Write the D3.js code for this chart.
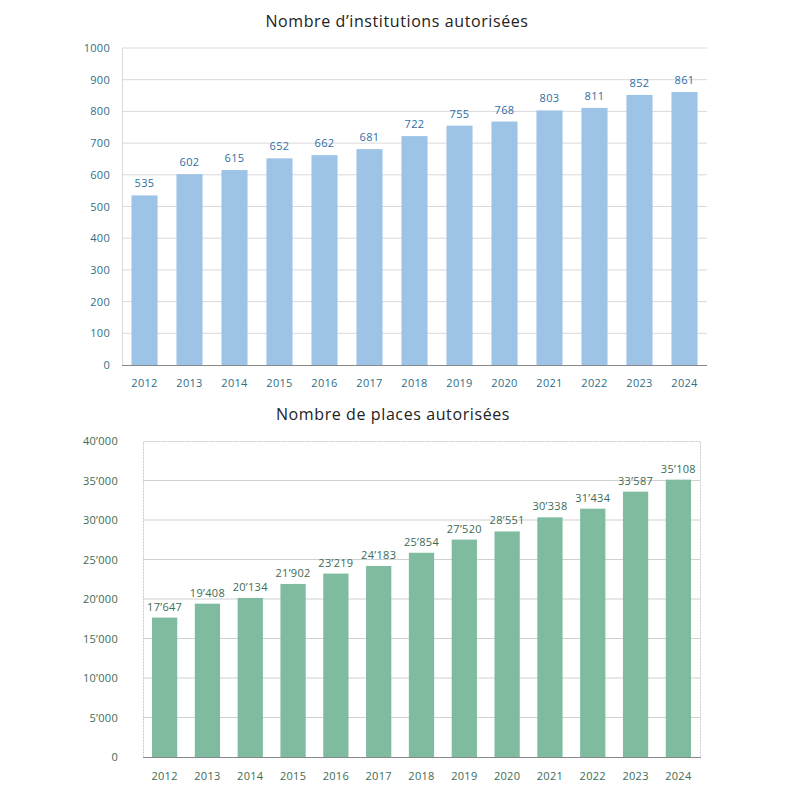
<!DOCTYPE html>
<html>
<head>
<meta charset="utf-8">
<script src="https://cdn.jsdelivr.net/npm/d3@7"></script>
<style>
  body { margin: 0; background: #fff; }
  text { font-family: "Open Sans", sans-serif; }
</style>
</head>
<body>
<svg width="794" height="794"></svg>
<script>
var years = ["2012", "2013", "2014", "2015", "2016", "2017", "2018", "2019", "2020", "2021", "2022", "2023", "2024"];
var institutions = [535, 602, 615, 652, 662, 681, 722, 755, 768, 803, 811, 852, 861];
var places = [17647, 19408, 20134, 21902, 23219, 24183, 25854, 27520, 28551, 30338, 31434, 33587, 35108];
var instTicks = [0, 100, 200, 300, 400, 500, 600, 700, 800, 900, 1000];
var placeTicks = [0, 5000, 10000, 15000, 20000, 25000, 30000, 35000, 40000];

var svg = d3.select("svg");

function fmt(v) {
  // thousands separator is an apostrophe
  return d3.format(",")(v).replace(/,/g, "\u2019");
}

// ---- top chart ----
var x1 = d3.scaleBand().domain(years).range([122, 707]).paddingInner(0.42).paddingOuter(0.21);
var y1 = d3.scaleLinear().domain([0, 1000]).range([365, 48]);

svg.append("text")
  .attr("x", 397).attr("y", 27)
  .attr("text-anchor", "middle")
  .style("font-size", "16px").style("fill", "#222").style("letter-spacing", "0.6px")
  .text("Nombre d\u2019institutions autorisées");

svg.append("g").selectAll("line")
  .data(instTicks.slice(1))
  .enter().append("line")
  .attr("x1", 122).attr("x2", 707)
  .attr("y1", function(d) { return y1(d); })
  .attr("y2", function(d) { return y1(d); })
  .style("stroke", "#d9d9d9");

svg.append("line")
  .attr("x1", 122.5).attr("x2", 122.5).attr("y1", 48).attr("y2", 365)
  .style("stroke", "#d9d9d9");

svg.append("g").selectAll("rect")
  .data(institutions)
  .enter().append("rect")
  .attr("x", function(d, i) { return x1(years[i]); })
  .attr("width", x1.bandwidth())
  .attr("y", function(d) { return y1(d); })
  .attr("height", function(d) { return y1(0) - y1(d); })
  .style("fill", "#9dc3e6");

svg.append("line")
  .attr("x1", 122).attr("x2", 707).attr("y1", 365.5).attr("y2", 365.5)
  .style("stroke", "#888");

svg.append("g").selectAll("text")
  .data(institutions)
  .enter().append("text")
  .attr("x", function(d, i) { return x1(years[i]) + x1.bandwidth() / 2; })
  .attr("y", function(d) { return y1(d) - 8; })
  .attr("text-anchor", "middle")
  .style("font-size", "11px").style("fill", "#2e6da4").style("letter-spacing", "0.3px")
  .text(function(d) { return d; });

svg.append("g").selectAll("text")
  .data(instTicks)
  .enter().append("text")
  .attr("x", 110)
  .attr("y", function(d) { return y1(d) + 4; })
  .attr("text-anchor", "end")
  .style("font-size", "11px").style("fill", "#2f6f86").style("letter-spacing", "0.3px")
  .text(function(d) { return d; });

svg.append("g").selectAll("text")
  .data(years)
  .enter().append("text")
  .attr("x", function(d) { return x1(d) + x1.bandwidth() / 2; })
  .attr("y", 387)
  .attr("text-anchor", "middle")
  .style("font-size", "11px").style("fill", "#2f6f86").style("letter-spacing", "0.3px")
  .text(function(d) { return d; });

// ---- bottom chart ----
var x2 = d3.scaleBand().domain(years).range([143, 700]).paddingInner(0.41).paddingOuter(0.21);
var y2 = d3.scaleLinear().domain([0, 40000]).range([757, 441]);

svg.append("text")
  .attr("x", 393).attr("y", 420)
  .attr("text-anchor", "middle")
  .style("font-size", "16px").style("fill", "#222").style("letter-spacing", "0.6px")
  .text("Nombre de places autorisées");

svg.append("g").selectAll("line")
  .data(placeTicks.slice(1, -1))
  .enter().append("line")
  .attr("x1", 143).attr("x2", 700)
  .attr("y1", function(d) { return y2(d); })
  .attr("y2", function(d) { return y2(d); })
  .style("stroke", "#d0d0d0");

svg.append("rect")
  .attr("x", 143.5).attr("y", 441.5).attr("width", 557).attr("height", 316)
  .style("fill", "none").style("stroke", "#c8c8c8").style("stroke-dasharray", "2,1");

svg.append("g").selectAll("rect")
  .data(places)
  .enter().append("rect")
  .attr("x", function(d, i) { return x2(years[i]); })
  .attr("width", x2.bandwidth())
  .attr("y", function(d) { return y2(d); })
  .attr("height", function(d) { return y2(0) - y2(d); })
  .style("fill", "#7fbc9f");

svg.append("line")
  .attr("x1", 143).attr("x2", 701).attr("y1", 757.5).attr("y2", 757.5)
  .style("stroke", "#888");

svg.append("g").selectAll("text")
  .data(places)
  .enter().append("text")
  .attr("x", function(d, i) { return x2(years[i]) + x2.bandwidth() / 2; })
  .attr("y", function(d) { return y2(d) - 7; })
  .attr("text-anchor", "middle")
  .style("font-size", "11px").style("fill", "#3d6b55").style("letter-spacing", "0.3px")
  .text(function(d) { return fmt(d); });

svg.append("g").selectAll("text")
  .data(placeTicks)
  .enter().append("text")
  .attr("x", 118)
  .attr("y", function(d) { return y2(d) + 4; })
  .attr("text-anchor", "end")
  .style("font-size", "11px").style("fill", "#3d6b55").style("letter-spacing", "0.3px")
  .text(function(d) { return fmt(d); });

svg.append("g").selectAll("text")
  .data(years)
  .enter().append("text")
  .attr("x", function(d) { return x2(d) + x2.bandwidth() / 2; })
  .attr("y", 780)
  .attr("text-anchor", "middle")
  .style("font-size", "11px").style("fill", "#3d6b55").style("letter-spacing", "0.3px")
  .text(function(d) { return d; });
</script>
</body>
</html>
